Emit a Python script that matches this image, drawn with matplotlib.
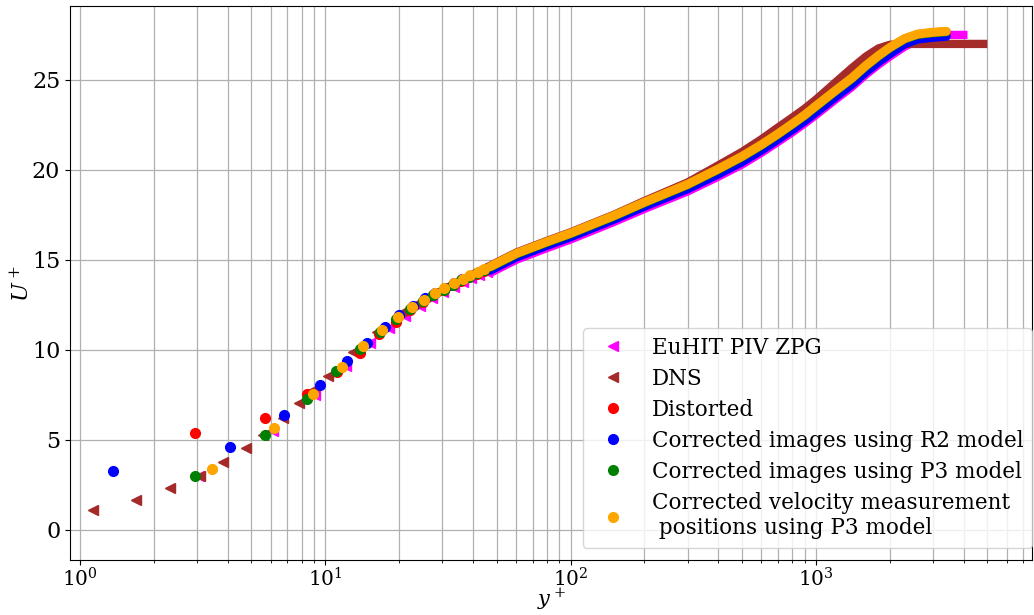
import numpy as np
import matplotlib
matplotlib.use("Agg")
import matplotlib.pyplot as plt

plt.rcParams['font.family'] = 'serif'
plt.rcParams['font.serif'] = ['DejaVu Serif']
plt.rcParams['mathtext.fontset'] = 'dejavuserif'
plt.rcParams['font.size'] = 16

# ---------------- data ----------------
# near-wall points (drawn as separate markers)
euhit_y = [3.06, 6.1, 9.1, 12.1, 15.2, 18.2, 21.2, 24.3, 27.3, 30.3, 33.4, 36.4, 39.4, 42.5, 45.5]
euhit_u = [2.98, 5.46, 7.51, 9.12, 10.35, 11.2, 11.9, 12.45, 12.9, 13.2, 13.5, 13.75, 13.98, 14.17, 14.35]

dns_y = [1.13, 1.69, 2.33, 3.08, 3.83, 4.74, 5.57, 6.70, 7.84, 8.91, 10.28, 13.0, 16.2]
dns_u = [1.10, 1.65, 2.29, 2.98, 3.75, 4.52, 5.27, 6.23, 7.02, 7.75, 8.57, 9.85, 10.99]

dist_y = [2.93, 5.68, 8.42, 11.2, 13.8, 16.6, 19.4, 22.1, 24.9, 27.6, 30.4, 33.1, 35.9, 38.6, 41.4, 44.2]
dist_u = [5.38, 6.23, 7.52, 8.79, 9.82, 10.88, 11.54, 12.2, 12.65, 13.02, 13.32, 13.6, 13.84, 14.04, 14.22, 14.38]

r2_y = [1.36, 4.08, 6.79, 9.47, 12.2, 14.8, 17.5, 19.9, 22.7, 25.4, 28.1, 30.8, 33.5, 36.2, 38.9, 41.6, 44.3]
r2_u = [3.26, 4.6, 6.36, 8.04, 9.39, 10.4, 11.26, 11.94, 12.45, 12.85, 13.18, 13.46, 13.7, 13.92, 14.1, 14.27, 14.42]

p3_y = [2.93, 5.7, 8.45, 11.1, 13.8, 16.7, 19.4, 22.1, 24.9, 27.6, 30.4, 33.1, 35.9, 38.6, 41.4, 44.2]
p3_u = [2.97, 5.27, 7.24, 8.8, 10.07, 11.0, 11.69, 12.25, 12.7, 13.05, 13.35, 13.62, 13.87, 14.07, 14.24, 14.42]

pos_y = [3.44, 6.18, 8.93, 11.66, 14.3, 17.1, 19.7, 22.6, 25.3, 27.9, 30.6, 33.4, 36.3, 39.0, 41.8, 44.5]
pos_u = [3.37, 5.64, 7.54, 9.07, 10.22, 11.10, 11.80, 12.36, 12.79, 13.15, 13.41, 13.70, 13.94, 14.14, 14.30, 14.47]

# outer region, points so dense they merge into a band
euhit_dy = [47, 60, 80, 100, 150, 200, 300, 400, 500, 600, 700, 800, 900, 1000, 1200, 1400, 1600, 1800,
            2000, 2300, 2600, 3000, 3400, 3800, 4150]
euhit_du = [14.27, 15.0, 15.65, 16.13, 17.1, 17.83, 18.8, 19.62, 20.3, 20.95, 21.55, 22.08, 22.58, 23.05,
            23.9, 24.6, 25.3, 25.85, 26.3, 26.85, 27.2, 27.45, 27.5, 27.5, 27.5]

dns_dy = [20, 30, 47, 60, 80, 100, 150, 200, 300, 400, 500, 600, 700, 800, 900, 1000, 1200, 1400, 1600,
          1800, 2000, 2200, 2500, 3000, 3500, 4000, 4500, 5000]
dns_du = [11.85, 13.3, 14.67, 15.4, 16.05, 16.53, 17.5, 18.27, 19.3, 20.25, 21.0, 21.7, 22.35, 22.9, 23.4,
          23.9, 24.85, 25.65, 26.3, 26.75, 26.95, 27.0, 27.0, 27.0, 27.0, 27.0, 27.0, 27.0]

band_y = [47, 60, 80, 100, 150, 200, 300, 400, 500, 600, 700, 800, 900, 1000, 1200, 1400, 1600, 1800,
          2000, 2300, 2600, 3000, 3400]
dist_du = [14.52, 15.27, 15.92, 16.4, 17.37, 18.12, 19.12, 19.97, 20.67, 21.32, 21.92, 22.47, 22.97, 23.47,
           24.32, 25.02, 25.72, 26.27, 26.72, 27.22, 27.47, 27.57, 27.62]
r2_du = [14.42, 15.15, 15.8, 16.28, 17.25, 17.98, 18.95, 19.77, 20.45, 21.1, 21.7, 22.23, 22.73, 23.2,
         24.05, 24.75, 25.45, 26.0, 26.45, 27.0, 27.27, 27.37, 27.42]
p3_du = [14.59, 15.32, 15.97, 16.45, 17.42, 18.17, 19.17, 20.02, 20.72, 21.37, 21.97, 22.52, 23.02, 23.52,
         24.37, 25.07, 25.77, 26.32, 26.77, 27.27, 27.52, 27.62, 27.67]
pos_du = [14.62, 15.35, 16.0, 16.48, 17.45, 18.2, 19.2, 20.05, 20.75, 21.4, 22.0, 22.55, 23.05, 23.55,
          24.4, 25.1, 25.8, 26.35, 26.8, 27.3, 27.55, 27.65, 27.7]

labels = ['EuHIT PIV ZPG', 'DNS', 'Distorted', 'Corrected images using R2 model',
          'Corrected images using P3 model',
          'Corrected velocity measurement\n positions using P3 model']
colors = ['magenta', 'brown', 'red', 'blue', 'green', 'orange']

series = [
    (euhit_y, euhit_u, euhit_dy, euhit_du, '<'),
    (dns_y, dns_u, dns_dy, dns_du, '<'),
    (dist_y, dist_u, band_y, dist_du, 'o'),
    (r2_y, r2_u, band_y, r2_du, 'o'),
    (p3_y, p3_u, band_y, p3_du, 'o'),
    (pos_y, pos_u, band_y, pos_du, 'o'),
]

fig = plt.figure(figsize=(10.34, 6.15), dpi=100)
ax = fig.add_axes([0.0677, 0.089, 0.9303, 0.901])

for (ys, us, dys, dus, mk), c, lab in zip(series, colors, labels):
    ms = 6.5 if mk == '<' else 7
    cap = 'butt' if mk == '<' else 'round'
    ax.plot(dys, dus, color=c, lw=ms - 0.5, solid_capstyle=cap)
    ax.plot(ys, us, linestyle='none', marker=mk, color=c, markersize=ms, label=lab)

ax.set_xscale('log')
ax.set_xlim(0.91, 7600)
ax.set_ylim(-1.7, 29.1)
ax.set_yticks([0, 5, 10, 15, 20, 25])
ax.grid(True, which='both', color='#b0b0b0', linewidth=0.9)
ax.set_axisbelow(True)
ax.tick_params(axis='x', which='major', labelsize=14.5, pad=1.5)

ax.set_xlabel('$y^+$', labelpad=-3, fontsize=15)
ax.set_ylabel('$U^+$', labelpad=-2)

ax.legend(loc='lower right', bbox_to_anchor=(1.0, 0.022), borderaxespad=0,
          fontsize=15.5, labelspacing=0.42)

fig.savefig('out.png', dpi=100)
